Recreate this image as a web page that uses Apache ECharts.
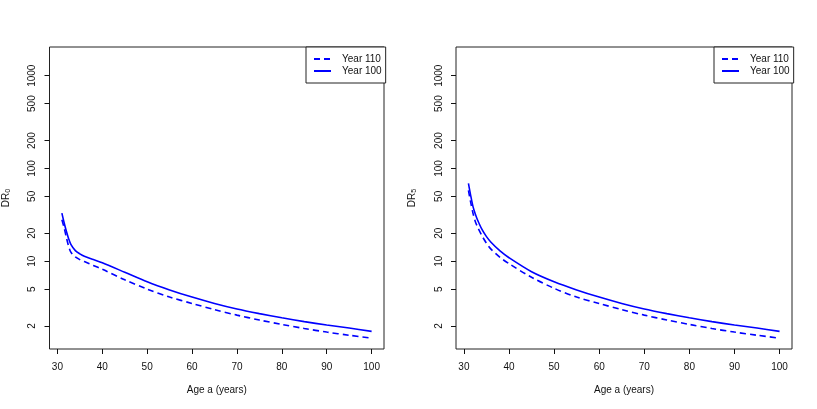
<!DOCTYPE html>
<html>
<head>
<meta charset="utf-8">
<script src="https://cdn.jsdelivr.net/npm/echarts@6/dist/echarts.min.js"></script>
<style>
  html, body { margin: 0; padding: 0; background: #fff; }
  #chart { width: 817px; height: 409px; }
</style>
</head>
<body>
<div id="chart"></div>
<script>
// ages (years)
var ages = [31, 31.5, 32, 32.5, 33, 34, 35, 36, 38, 40, 45, 50, 55, 60, 65, 70, 75, 80, 85, 90, 95, 100];

// DR_0 panel
var dr0Year110 = [28, 23, 18, 14.5, 12.5, 11.1, 10.4, 9.9, 9.0, 8.2, 6.3, 5.0, 4.1, 3.5, 3.0, 2.62, 2.32, 2.08, 1.88, 1.72, 1.59, 1.48];
var dr0Year100 = [33, 26, 21, 17.5, 15.2, 13, 12, 11.3, 10.4, 9.6, 7.6, 6.0, 4.9, 4.1, 3.5, 3.05, 2.72, 2.45, 2.23, 2.05, 1.9, 1.75];

// DR_5 panel
var dr5Year110 = [58, 43, 33, 27, 23.5, 18.8, 15.6, 13.5, 11.0, 9.4, 6.7, 5.1, 4.1, 3.5, 3.0, 2.62, 2.32, 2.08, 1.88, 1.72, 1.59, 1.48];
var dr5Year100 = [69, 51, 39, 32.5, 28, 22, 18.4, 16, 12.9, 10.9, 7.7, 6.0, 4.9, 4.1, 3.5, 3.05, 2.72, 2.45, 2.23, 2.05, 1.9, 1.75];

var xTicks = [30, 40, 50, 60, 70, 80, 90, 100];
var yTicks = [2, 5, 10, 20, 50, 100, 200, 500, 1000];

function pairs(xs, ys) {
  return xs.map(function (x, i) { return [x, ys[i]]; });
}

var chartDom = document.getElementById('chart');
var chart = echarts.init(chartDom);
var font = 'Liberation Sans, Arial, sans-serif';
var ink = '#111';

function xAxisFor(idx) {
  return {
    type: 'value',
    gridIndex: idx,
    min: 28.24,
    max: 102.76,
    name: 'Age a (years)',
    nameLocation: 'middle',
    nameGap: 36,
    nameTextStyle: { fontFamily: font, fontSize: 10, color: ink },
    axisLine: { show: false },
    axisTick: { show: true, length: 5, lineStyle: { color: ink }, customValues: xTicks },
    axisLabel: { fontFamily: font, fontSize: 10, color: ink, margin: 13, customValues: xTicks },
    splitLine: { show: false }
  };
}

function yAxisFor(idx, sub) {
  return {
    type: 'log',
    gridIndex: idx,
    min: 1.13,
    max: 2040,
    name: '{a|DR}{b|' + sub + '}',
    nameLocation: 'middle',
    nameGap: 38,
    nameRotate: 90,
    nameTextStyle: {
      rich: {
        a: { fontFamily: font, fontSize: 10, color: ink },
        b: { fontFamily: font, fontSize: 7, color: ink, verticalAlign: 'bottom', padding: [4, 0, 0, 0] }
      }
    },
    axisLine: { show: false },
    axisTick: { show: true, length: 5, lineStyle: { color: ink }, customValues: yTicks },
    axisLabel: {
      fontFamily: font, fontSize: 10, color: ink, rotate: 90, margin: 12, customValues: yTicks,
      formatter: function (v) { return String(Math.round(v)); }
    },
    splitLine: { show: false }
  };
}

function legendFor(left) {
  return {
    orient: 'vertical',
    left: left,
    top: 47,
    itemWidth: 17,
    itemHeight: 10,
    itemGap: 2,
    padding: [7, 4, 7, 7],
    borderColor: '#222',
    borderWidth: 1,
    backgroundColor: '#fff',
    itemStyle: { opacity: 0 },
    textStyle: { fontFamily: font, fontSize: 10, color: ink, padding: [0, 0, 0, 6] },
    data: ['Year 110', 'Year 100']
  };
}

function lineSeries(name, idx, ys, dashed) {
  return {
    name: name,
    type: 'line',
    xAxisIndex: idx,
    yAxisIndex: idx,
    data: pairs(ages, ys),
    smooth: 0.3,
    showSymbol: false,
    symbol: 'none',
    lineStyle: { color: '#0000ff', width: 1.6, type: dashed ? [6, 4] : 'solid' },
    itemStyle: { color: '#0000ff' },
    animation: false
  };
}

var option = {
  backgroundColor: '#fff',
  animation: false,
  grid: [
    { left: 48, top: 47, width: 336, height: 302, show: true, borderColor: '#222', borderWidth: 1, backgroundColor: 'transparent' },
    { left: 456, top: 47, width: 336, height: 302, show: true, borderColor: '#222', borderWidth: 1, backgroundColor: 'transparent' }
  ],
  legend: [legendFor(306), legendFor(714)],
  xAxis: [xAxisFor(0), xAxisFor(1)],
  yAxis: [yAxisFor(0, '0'), yAxisFor(1, '5')],
  series: [
    lineSeries('Year 110', 0, dr0Year110, true),
    lineSeries('Year 100', 0, dr0Year100, false),
    lineSeries('Year 110', 1, dr5Year110, true),
    lineSeries('Year 100', 1, dr5Year100, false)
  ]
};

chart.setOption(option);
window.addEventListener('resize', function () {
  chart.resize();
});
</script>
</body>
</html>
